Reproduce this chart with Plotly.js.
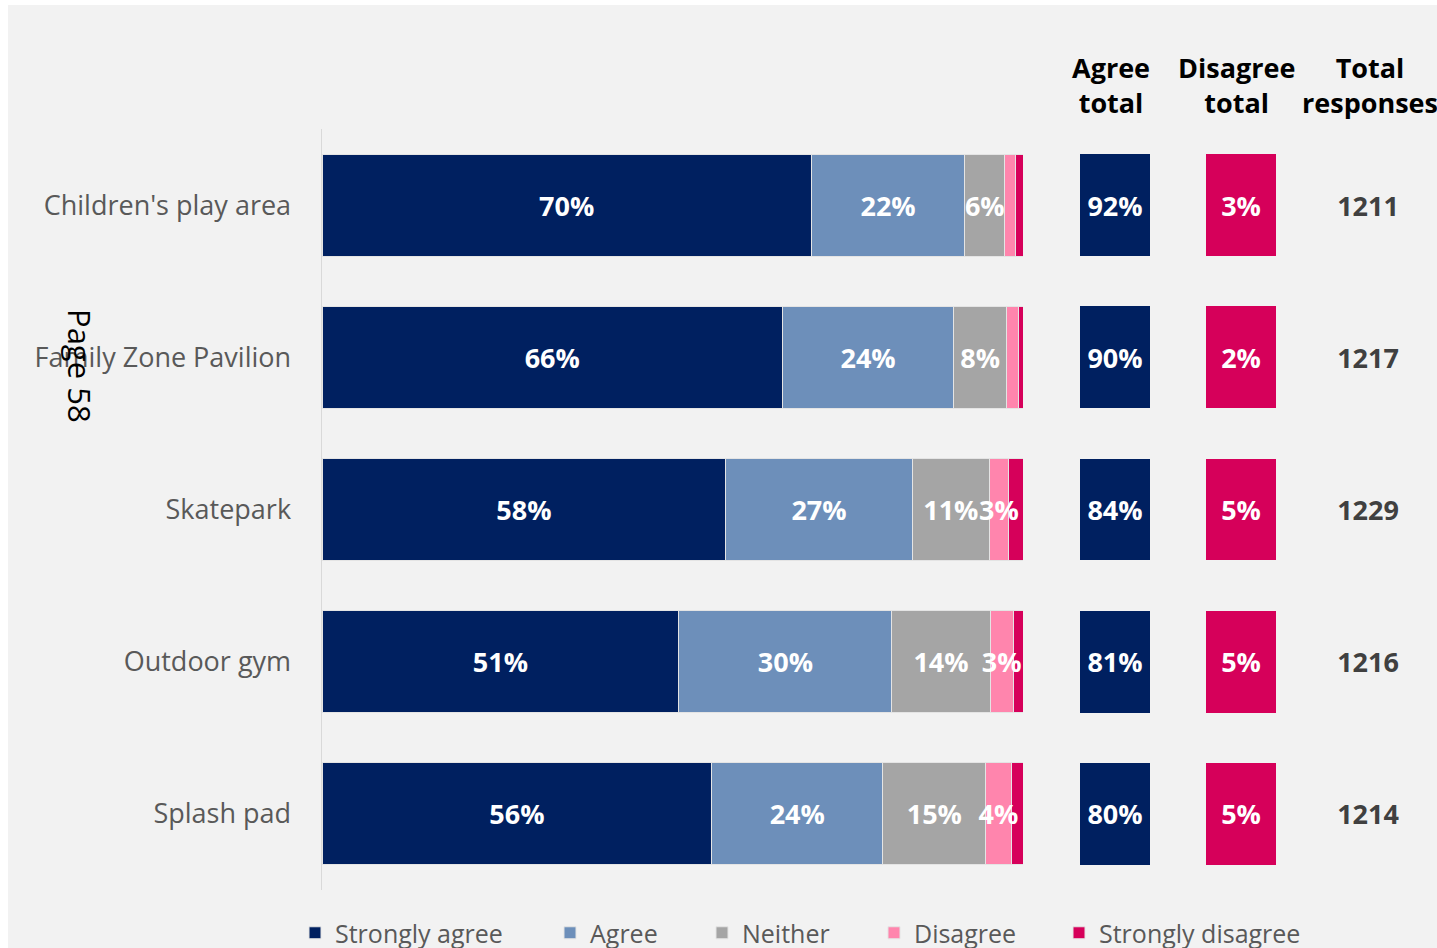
<!DOCTYPE html>
<html>
<head>
<meta charset="utf-8">
<script src="https://cdn.plot.ly/plotly-3.0.1.min.js"></script>
<style>
  html, body { margin: 0; padding: 0; background: #ffffff; overflow: hidden; width: 1437px; height: 948px; }
  #chart { position: absolute; left: 8px; top: 5px; width: 1480px; height: 990px; }
</style>
</head>
<body>
<div id="chart"></div>
<script>
// ---------- data ----------
const categories = ["Children's play area", "Family Zone Pavilion", "Skatepark", "Outdoor gym", "Splash pad"];
const seriesNames = ["Strongly agree", "Agree", "Neither", "Disagree", "Strongly disagree"];
const stronglyAgree    = [69.8, 65.7, 57.6, 50.9, 55.6];
const agree            = [21.9, 24.4, 26.6, 30.4, 24.4];
const neither          = [5.7, 7.6, 11.0, 14.0, 14.7];
const disagree         = [1.5, 1.6, 2.7, 3.3, 3.6];
const stronglyDisagree = [1.1, 0.7, 2.1, 1.4, 1.7];
const agreeTotal       = [92, 90, 84, 81, 80];
const disagreeTotal    = [3, 2, 5, 5, 5];
const totalResponses   = [1211, 1217, 1229, 1216, 1214];
const sideHeaders      = ["<b>Agree<br>total</b>", "<b>Disagree<br>total</b>", "<b>Total<br>responses</b>"];
const pageNote         = "Page 58";

// ---------- styles ----------
const seriesColors = ["#002060", "#6d8fba", "#a5a5a5", "#ff85ad", "#d6005a"];
const labelMin = 2.5;   // segments narrower than this carry no label
const FONT = "Open Sans, DejaVu Sans, sans-serif";
const W = 1480, H = 990;
const legendTextX = [327, 582, 734, 906, 1091];  // px (container)
const headerShift = [-4, -5, 2];

const seriesValues = [stronglyAgree, agree, neither, disagree, stronglyDisagree];
const labelOf = vals => vals.map(v => v >= labelMin ? Math.round(v) + '%' : '');
const labelFont = { family: FONT, size: 27, color: '#ffffff', weight: 'bold' };
const traces = [];
seriesValues.forEach((vals, i) => {
  traces.push({
    type: 'bar', orientation: 'h',
    name: seriesNames[i],
    y: categories, x: vals,
    xaxis: 'x', yaxis: 'y',
    marker: { color: seriesColors[i], line: { color: '#e4e4e4', width: 1 } },
    text: i < 3 ? labelOf(vals) : vals.map(() => ''),
    textposition: 'inside', insidetextanchor: 'middle', textangle: 0,
    textfont: labelFont,
    legend: i === 0 ? 'legend' : 'legend' + (i + 1),
    hoverinfo: 'skip'
  });
});
// Disagree labels drawn on an overlay axis so they sit above the neighbouring segment
const disagreeBase = stronglyAgree.map((v, k) => v + agree[k] + neither[k]);
traces.push({
  type: 'bar', orientation: 'h', y: categories, x: disagree, base: disagreeBase,
  xaxis: 'x5', yaxis: 'y', showlegend: false,
  marker: { color: 'rgba(0,0,0,0)' },
  text: labelOf(disagree), textposition: 'inside', insidetextanchor: 'middle', textangle: 0,
  textfont: labelFont, hoverinfo: 'skip'
});
// side boxes
traces.push({
  type: 'bar', orientation: 'h', y: categories, x: categories.map(() => 1),
  xaxis: 'x2', yaxis: 'y', showlegend: false,
  marker: { color: seriesColors[0] },
  text: agreeTotal.map(v => v + '%'), textposition: 'inside', insidetextanchor: 'middle', textangle: 0,
  textfont: labelFont, hoverinfo: 'skip'
});
traces.push({
  type: 'bar', orientation: 'h', y: categories, x: categories.map(() => 1),
  xaxis: 'x3', yaxis: 'y', showlegend: false,
  marker: { color: seriesColors[4] },
  text: disagreeTotal.map(v => v + '%'), textposition: 'inside', insidetextanchor: 'middle', textangle: 0,
  textfont: labelFont, hoverinfo: 'skip'
});
traces.push({
  type: 'bar', orientation: 'h', y: categories, x: categories.map(() => 1),
  xaxis: 'x4', yaxis: 'y', showlegend: false,
  marker: { color: 'rgba(0,0,0,0)' },
  text: totalResponses.map(String), textposition: 'inside', insidetextanchor: 'middle', textangle: 0,
  textfont: { family: FONT, size: 27, color: '#404040', weight: 'bold' }, hoverinfo: 'skip'
});

const plotL = 314, plotR = 20, plotT = 124, plotB = 105;
const plotW = W - plotL - plotR;
const dom = (a, b) => [(a - plotL) / plotW, (b - plotL) / plotW];
const hiddenAxis = (d, r) => ({ domain: d, range: r, visible: false, showgrid: false, zeroline: false, fixedrange: true });

const legends = {};
seriesNames.forEach((n, i) => {
  const key = i === 0 ? 'legend' : 'legend' + (i + 1);
  legends[key] = {
    xref: 'container', yref: 'container',
    x: (legendTextX[i] - 40) / W, xanchor: 'left',
    y: 1 - 928 / H, yanchor: 'middle',
    orientation: 'h', bgcolor: 'rgba(0,0,0,0)', borderwidth: 0,
    font: { family: FONT, size: 25, color: '#595959' }
  };
});

const annotations = sideHeaders.map((t, i) => ({
  xref: 'x' + (i + 2), yref: 'paper', x: 0.5, y: 1, xanchor: 'center', yanchor: 'bottom',
  yshift: 6, xshift: headerShift[i], showarrow: false, text: t,
  font: { family: FONT, size: 27, color: '#000000' }
}));
annotations.push({
  xref: 'paper', yref: 'paper', x: (72 - plotL) / plotW, y: (H - plotB - 361) / (H - plotT - plotB),
  xanchor: 'center', yanchor: 'middle', textangle: 90, showarrow: false, text: pageNote,
  font: { family: FONT, size: 31, color: '#000000' }
});

const mainDomain = dom(plotL, plotL + 701);
const layout = Object.assign({
  width: W, height: H,
  margin: { l: plotL, r: plotR, t: plotT, b: plotB, pad: 0 },
  paper_bgcolor: '#f2f2f2', plot_bgcolor: '#f2f2f2',
  barmode: 'stack', bargap: 0.33,
  uniformtext: { mode: 'show', minsize: 27 },
  showlegend: true, hovermode: false,
  xaxis: hiddenAxis(mainDomain, [0, 100]),
  xaxis5: Object.assign(hiddenAxis(mainDomain, [0, 100]), { overlaying: 'x', anchor: 'y' }),
  xaxis2: Object.assign(hiddenAxis(dom(1072, 1142), [0, 1]), { anchor: 'y' }),
  xaxis3: Object.assign(hiddenAxis(dom(1198, 1268), [0, 1]), { anchor: 'y' }),
  xaxis4: Object.assign(hiddenAxis(dom(1300, 1420), [0, 1]), { anchor: 'y' }),
  yaxis: {
    type: 'category', autorange: 'reversed',
    showline: true, linecolor: '#d9d9d9', linewidth: 1.5,
    showgrid: false, zeroline: false, ticks: '', ticklabelstandoff: 24,
    tickfont: { family: FONT, size: 27, color: '#595959' }, fixedrange: true
  },
  annotations: annotations
}, legends);

Plotly.newPlot('chart', traces, layout, { displayModeBar: false, staticPlot: true });
</script>
</body>
</html>
